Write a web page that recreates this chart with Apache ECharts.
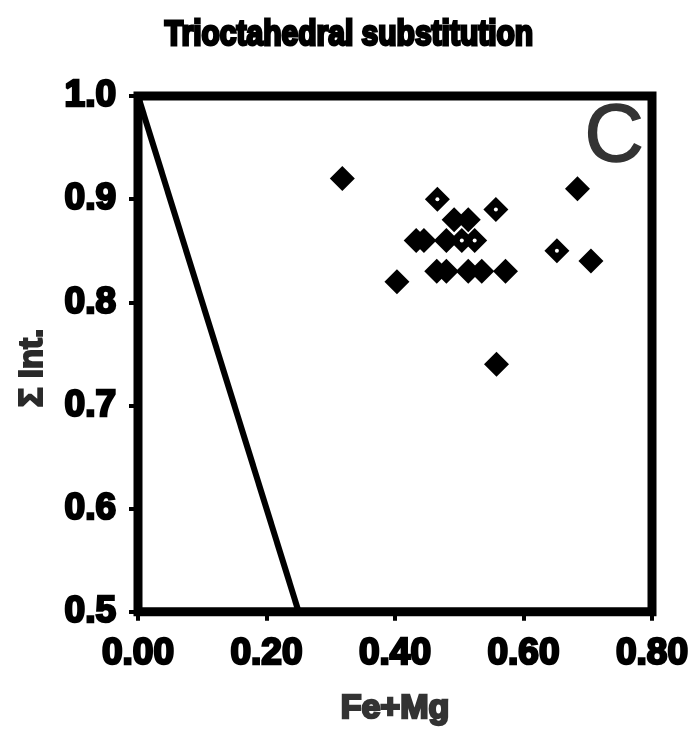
<!DOCTYPE html>
<html>
<head>
<meta charset="utf-8">
<script src="https://cdn.jsdelivr.net/npm/echarts@6/dist/echarts.min.js"></script>
<style>html,body{margin:0;padding:0;background:#fff}#c{width:696px;height:732px}</style>
</head>
<body>
<div id="c"></div>
<script>
// Filled diamonds [Fe+Mg, Σ Int.]
var solidPoints = [
  [0.318, 0.92], [0.684, 0.91], [0.492, 0.88], [0.514, 0.88],
  [0.433, 0.86], [0.445, 0.86], [0.480, 0.86], [0.705, 0.84],
  [0.465, 0.83], [0.480, 0.83], [0.514, 0.83], [0.535, 0.83], [0.572, 0.83],
  [0.403, 0.82], [0.558, 0.74]
];
// Diamonds with a white centre dot
var hollowPoints = [
  [0.466, 0.90], [0.557, 0.89], [0.504, 0.86], [0.524, 0.86], [0.652, 0.85]
];
// Boundary line
var boundaryLine = [[0.00, 1.0], [0.25, 0.5]];

var titleText = 'Trioctahedral substitution';
var xName = 'Fe+Mg';
var yName = 'Σ Int.';
var panelLabel = 'C';

var chart = echarts.init(document.getElementById('c'), null, {renderer: 'canvas'});
var heavy = {fontFamily: 'Liberation Sans', fontWeight: 'bold', textBorderWidth: 2.5};

chart.setOption({
  animation: false,
  backgroundColor: '#fff',
  grid: {left: 138, right: 44, top: 96, bottom: 119, show: true, borderColor: '#000', borderWidth: 9, backgroundColor: 'transparent'},
  xAxis: {
    type: 'value', min: 0, max: 0.8, interval: 0.2,
    axisLine: {show: false},
    axisTick: {show: true, inside: false, length: 9, lineStyle: {color: '#000', width: 4}},
    splitLine: {show: false},
    axisLabel: Object.assign({fontSize: 37, color: '#000', textBorderColor: '#000', margin: 24,
      formatter: function (v) { return v.toFixed(2); }}, heavy),
    name: xName, nameLocation: 'middle', nameGap: 80,
    nameTextStyle: Object.assign({fontSize: 34, color: '#333', textBorderColor: '#333'}, heavy)
  },
  yAxis: {
    type: 'value', min: 0.5, max: 1.0, interval: 0.1,
    axisLine: {show: false},
    axisTick: {show: true, inside: false, length: 9, lineStyle: {color: '#000', width: 4}},
    splitLine: {show: false},
    axisLabel: Object.assign({fontSize: 37, color: '#000', textBorderColor: '#000', margin: 22,
      formatter: function (v) { return v.toFixed(1); }}, heavy)
  },
  graphic: [
    {
      type: 'text', x: 349, y: 35, scaleY: 1.15, z: 10,
      style: {text: titleText, fontSize: 30, fill: '#000', stroke: '#000', lineWidth: 2.5,
        textAlign: 'center', textVerticalAlign: 'middle', fontFamily: 'Liberation Sans', fontWeight: 'bold'}
    },
    {
      type: 'text', x: 33, y: 368, rotation: Math.PI / 2, z: 10,
      style: {text: yName, fontSize: 33, fontFamily: 'Liberation Sans', fontWeight: 'bold',
        fill: '#2a2a2a', stroke: '#2a2a2a', lineWidth: 2, textAlign: 'center', textVerticalAlign: 'middle'}
    },
    {
      type: 'text', x: 614, y: 138, z: 10,
      style: {text: panelLabel, fontSize: 82, fontFamily: 'Liberation Sans', fill: '#333',
        stroke: '#333', lineWidth: 1.5, textAlign: 'center', textVerticalAlign: 'middle'}
    }
  ],
  series: [
    {
      type: 'line', data: boundaryLine, symbol: 'none',
      lineStyle: {color: '#000', width: 6}, z: 2
    },
    {
      type: 'scatter', data: solidPoints, symbol: 'diamond', symbolSize: 25,
      itemStyle: {color: '#000', opacity: 1}, z: 3
    },
    {
      type: 'scatter', data: hollowPoints, symbol: 'diamond', symbolSize: 25,
      itemStyle: {color: '#000', opacity: 1}, z: 4
    },
    {
      type: 'scatter', data: hollowPoints, symbol: 'circle', symbolSize: 4,
      itemStyle: {color: '#fff', opacity: 1}, z: 5
    }
  ]
});
</script>
</body>
</html>
